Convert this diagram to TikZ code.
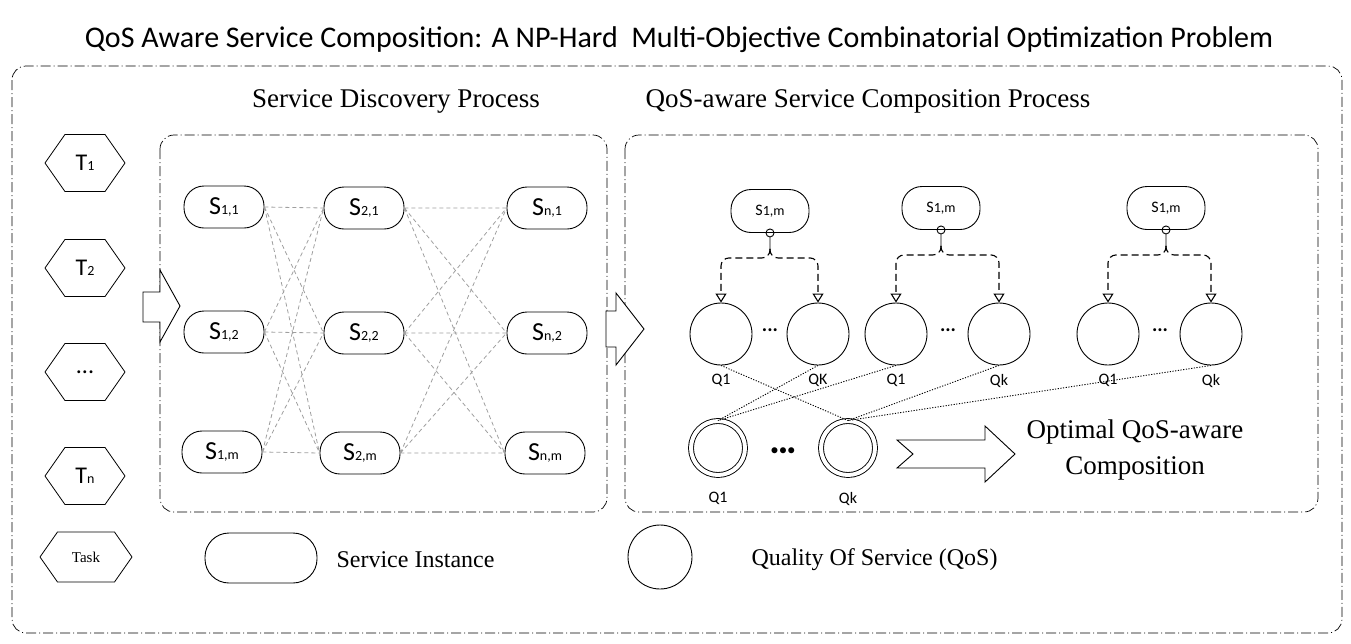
\documentclass[tikz,border=0pt]{standalone}
\usepackage{fontspec}
\setmainfont{Liberation Serif}
\newfontfamily\calib{Carlito}
\usetikzlibrary{shapes.symbols,arrows.meta}

\newcommand\idx[1]{{\fontsize{14}{14}\selectfont #1}}

\begin{document}
\begin{tikzpicture}[x=1pt,y=-1pt,
	frame/.style={draw,rounded corners=14pt,line width=0.7pt,dash pattern=on 10pt off 3pt on 1pt off 3pt},
	task/.style={draw,signal,signal to=east and west,signal pointer angle=110,minimum width=80pt,minimum height=57pt,inner sep=0pt,line width=0.8pt,font=\calib\fontsize{24}{24}\selectfont},
	svc/.style={draw,rounded corners=20pt,minimum width=80pt,minimum height=42pt,inner sep=0pt,line width=0.9pt,font=\calib\fontsize{26}{26}\selectfont},
	inst/.style={svc,minimum width=78pt,minimum height=43pt,font=\calib\fontsize{16}{16}\selectfont},
	qos/.style={draw,circle,minimum size=62pt,inner sep=0pt,line width=0.9pt},
	best/.style={draw,circle,double,double distance=4pt,minimum size=54pt,inner sep=0pt,line width=0.9pt},
	qlab/.style={font=\calib\fontsize{16}{16}\selectfont,yshift=-5pt},
	blab/.style={qlab,yshift=-8pt},
	link/.style={gray!75,line width=0.8pt,dash pattern=on 4pt off 3pt},
	pick/.style={line width=0.9pt,dash pattern=on 1.2pt off 1.5pt},
	fork/.style={line width=1.1pt,dash pattern=on 7pt off 4pt,rounded corners=8pt,-{Triangle[open,width=11pt,length=9pt]}},
	blk/.style={draw,line width=0.9pt,fill=white}]

\useasboundingbox (0,0) rectangle (1351,643);

% title and frames
\node[font=\calib\fontsize{30}{30}\selectfont] (title) at (679,40) {QoS Aware Service Composition: A NP-Hard\ \ Multi-Objective Combinatorial Optimization Problem};
\draw[frame] (12,66) rectangle (1342,633);
\draw[frame] (160,135) rectangle (607,512);
\draw[frame] (625,135) rectangle (1318,512);
\node[font=\fontsize{27}{27}\selectfont] (disc) at (396,101) {Service Discovery Process};
\node[font=\fontsize{27}{27}\selectfont] (comp) at (868,101) {QoS-aware Service Composition Process};

% tasks
\node[task] (T1) at (85,163) {T\idx{1}};
\node[task] (T2) at (85,268) {T\idx{2}};
\node[task] (T3) at (85,372) {...};
\node[task] (Tn) at (85,476) {T\idx{n}};

\draw[blk] (143,292) -- (160,292) -- (160,270) -- (180,306) -- (160,342) -- (160,322) -- (143,322) -- cycle;
\draw[blk] (606,311) -- (616,311) -- (616,293) -- (644,329) -- (616,365) -- (616,347) -- (606,347) -- cycle;

% service instances
\node[svc] (S11) at (224,207) {S\idx{1,1}};
\node[svc] (S12) at (224,332) {S\idx{1,2}};
\node[svc] (S1m) at (222,452) {S\idx{1,m}};
\node[svc] (S21) at (364,208) {S\idx{2,1}};
\node[svc] (S22) at (364,333) {S\idx{2,2}};
\node[svc] (S2m) at (360,453) {S\idx{2,m}};
\node[svc] (Sn1) at (547,208) {S\idx{n,1}};
\node[svc] (Sn2) at (547,333) {S\idx{n,2}};
\node[svc] (Snm) at (545,453) {S\idx{n,m}};

\draw[link] (S11.east) -- (S21.west) (S11.east) -- (S22.west) (S11.east) -- (S2m.west);
\draw[link] (S12.east) -- (S21.west) (S12.east) -- (S22.west) (S12.east) -- (S2m.west);
\draw[link] (S1m.east) -- (S21.west) (S1m.east) -- (S22.west) (S1m.east) -- (S2m.west);
\draw[link] (S21.east) -- (Sn1.west) (S21.east) -- (Sn2.west) (S21.east) -- (Snm.west);
\draw[link] (S22.east) -- (Sn1.west) (S22.east) -- (Sn2.west) (S22.east) -- (Snm.west);
\draw[link] (S2m.east) -- (Sn1.west) (S2m.east) -- (Sn2.west) (S2m.east) -- (Snm.west);

% QoS of each instance
\node[inst] (C1) at (770,211) {S\idx{1,m}};
\node[inst] (C2) at (941,208) {S\idx{1,m}};
\node[inst] (C3) at (1166,208) {S\idx{1,m}};

\node[qos,label={[qlab]below:Q1}] (Q11) at (721,334) {};
\node[qos,label={[qlab]below:QK}] (Q1k) at (818,334) {};
\node[qos,label={[qlab]below:Q1}] (Q21) at (896,334) {};
\node[qos,label={[qlab]below:Qk}] (Q2k) at (999,334) {};
\node[qos,label={[qlab]below:Q1}] (Q31) at (1108,334) {};
\node[qos,label={[qlab]below:Qk}] (Q3k) at (1211,334) {};
\node[font=\calib\bfseries\fontsize{20}{20}\selectfont] (dots1) at (770,330) {...};
\node[font=\calib\bfseries\fontsize{20}{20}\selectfont] (dots2) at (948,330) {...};
\node[font=\calib\bfseries\fontsize{20}{20}\selectfont] (dots3) at (1160,330) {...};

\draw[line width=0.9pt] (C1.south) circle (4pt) ++(0,4) -- ++(0,12) coordinate (K1);
\draw[line width=0.9pt] (C2.south) circle (4pt) ++(0,4) -- ++(0,12) coordinate (K2);
\draw[line width=0.9pt] (C3.south) circle (4pt) ++(0,4) -- ++(0,12) coordinate (K3);
\draw[fork] (K1) -- ++(0,9) -| (Q11.north);
\draw[fork] (K1) -- ++(0,9) -| (Q1k.north);
\draw[fork] (K2) -- ++(0,9) -| (Q21.north);
\draw[fork] (K2) -- ++(0,9) -| (Q2k.north);
\draw[fork] (K3) -- ++(0,9) -| (Q31.north);
\draw[fork] (K3) -- ++(0,9) -| (Q3k.north);

% optimal composition
\node[best,label={[blab]below:Q1}] (D1) at (718,448) {};
\node[best,label={[blab]below:Qk}] (Dk) at (848,448) {};
\node[font=\calib\fontsize{17}{17}\selectfont] (dots4) at (783,452) {\textbullet\textbullet\textbullet};

\draw[pick] (Q11.south) -- (Dk.north);
\draw[pick] (Q1k.south) -- (D1.north);
\draw[pick] (Q21.south) -- (D1.north);
\draw[pick] (Q2k.south) -- (Dk.north);
\draw[pick] (Q3k.south) -- (Dk.north);

\draw[blk] (897,440) -- (985,440) -- (985,426) -- (1015,454) -- (985,482) -- (985,468) -- (897,468) -- (913,454) -- cycle;
\node[align=center,font=\fontsize{27}{36}\selectfont] (opt) at (1135,450) {Optimal QoS-aware\\Composition};

% legend
\node[task,minimum width=92pt,minimum height=50pt,font=\fontsize{15}{15}\selectfont] (Ltask) at (86,557) {Task};
\node[svc,minimum width=112pt,minimum height=50pt,rounded corners=24pt] (Lsvc) at (261,558) {};
\node[anchor=west,font=\fontsize{24}{24}\selectfont] (Lsvct) at (333,560) {Service Instance};
\node[draw,circle,minimum size=64pt,line width=0.9pt] (Lqos) at (660,557) {};
\node[anchor=west,font=\fontsize{24}{24}\selectfont] (Lqost) at (748,560) {Quality Of Service (QoS)};

\end{tikzpicture}
\end{document}
